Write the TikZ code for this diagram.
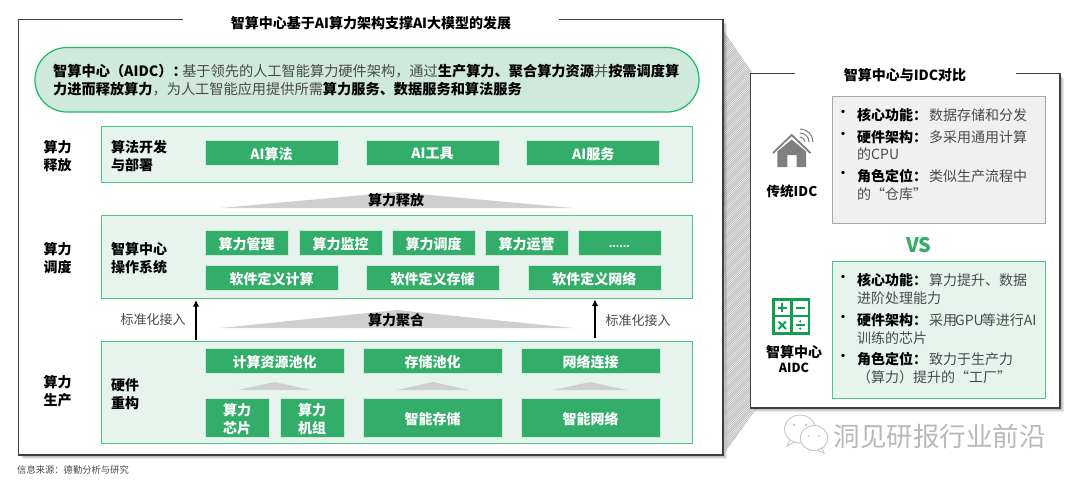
\documentclass[tikz,border=0pt]{standalone}
\usepackage{fontspec}
\setmainfont{Noto Sans CJK SC}
\usetikzlibrary{arrows.meta}
\definecolor{boxgreen}{HTML}{32AD6A}
\definecolor{pillfill}{HTML}{CFE9DC}
\definecolor{pillline}{HTML}{1DB866}
\definecolor{rowfill}{HTML}{E7F4ED}
\definecolor{rowline}{HTML}{4CC588}
\definecolor{trigray}{HTML}{CFCFCF}
\definecolor{txtgray}{HTML}{4A4A4A}
\definecolor{framegray}{HTML}{404040}
\definecolor{icongreen}{HTML}{0FA04F}
\definecolor{icongray}{HTML}{7F7F7F}
\newcommand{\fs}[1]{\fontsize{#1}{#1}\selectfont}
\newcommand{\gt}[1]{\textcolor{txtgray}{#1}}
\newcommand{\dn}[1]{\raisebox{-1.2pt}[\height][\depth]{#1}}
\tikzset{
  x=1pt,y=-1pt,
  rowbox/.style={draw=rowline,fill=rowfill,line width=1pt},
  gbox/.style={draw=white!75!boxgreen,fill=boxgreen,line width=.5pt,text=white,align=center,inner sep=0pt,font=\fs{14}\bfseries},
  lab/.style={align=left,anchor=west,inner sep=0pt,font=\fs{14}\bfseries},
  sidelab/.style={align=center,inner sep=0pt,font=\fs{14}\bfseries},
  tri/.style={fill=trigray,draw=none},
  heading/.style={inner sep=0pt,font=\fs{14}\bfseries},
  item/.style={align=left,anchor=west,inner sep=0pt,font=\fs{14},text=txtgray},
  bul/.style={inner sep=0pt,font=\fs{12}\bfseries},
  flow/.style={-{Latex[length=6.5pt,width=6.5pt]},line width=1.5pt,black},
  frameline/.style={draw=framegray,line width=1.2pt},
}
\begin{document}
\begin{tikzpicture}
\useasboundingbox (0,0) rectangle (1080,483);
% zoom wedge, finely hatched
\begin{scope}
\clip (723,30) -- (752,72) -- (757,408) -- (726,451) -- cycle;
\fill[gray!12] (715,25) rectangle (765,455);
\foreach \k in {0,2.2,...,480}{
  \draw[gray!60,line width=.6pt] (715,\k) -- (765,\k-50);
}
\end{scope}
% shadows
\foreach \i in {1,2,3,4}{
  \fill[black,opacity=.09] (18.5+\i,19.5+\i) rectangle (723+\i,455+\i);
  \fill[black,opacity=.09] (750.5+\i,73.5+\i) rectangle (1060+\i,408+\i);
}
% left frame
\fill[white] (18.5,19.5) rectangle (723,455);
\draw[frameline] (183,19.5) -- (18.5,19.5) -- (18.5,455) -- (723,455) -- (723,19.5) -- (559,19.5);
\node[heading] (title) at (371,23) {智算中心基于AI算力架构支撑AI大模型的发展};
% pill
\draw[draw=pillline,fill=pillfill,line width=1.2pt,rounded corners=32pt] (35,47.5) rectangle (699,112);
\node[align=left,anchor=west,inner sep=0pt,font=\fs{14.2}] (pilltext) at (53,80.5) {\textbf{智算中心（AIDC）：}\hspace{-4.5pt}\gt{基于领先的人工智能算力硬件架构，通过}\textbf{生产算力、聚合算力资源}\gt{并}\textbf{按需调度算}\\[3.8pt]\textbf{力进而释放算力}\gt{，为人工智能应用提供所需}\textbf{算力服务、数据服务和算法服务}};
% rows
\draw[rowbox] (101.5,126.5) rectangle (692.5,182.5);
\draw[rowbox] (101.5,215) rectangle (692.5,298);
\draw[rowbox] (101.5,341) rectangle (692.5,443);
% side labels
\node[sidelab] (s1) at (57.5,156.2) {算力\\[4pt]释放};
\node[sidelab] (s2) at (57.5,258.5) {算力\\[4pt]调度};
\node[sidelab] (s3) at (57.5,391.5) {算力\\[4pt]生产};
\node[lab] (l1) at (111,156.2) {算法开发\\[4pt]与部署};
\node[lab] (l2) at (111,258.5) {智算中心\\[4pt]操作系统};
\node[lab] (l3) at (111,394.5) {硬件\\[4pt]重构};
% row 1 boxes
\node[gbox,minimum width=133pt,minimum height=25pt] (b11) at (271.5,152.5) {\dn{AI算法}};
\node[gbox,minimum width=133pt,minimum height=25pt] (b12) at (432.5,152.5) {\dn{AI工具}};
\node[gbox,minimum width=133pt,minimum height=25pt] (b13) at (593.2,152.5) {\dn{AI服务}};
% release triangle
\fill[tri] (220,208) -- (397,192) -- (573,208) -- cycle;
\node[inner sep=0pt,font=\fs{14}\bfseries] (t1) at (396,200) {算力释放};
% row 2 boxes
\node[gbox,minimum width=83pt,minimum height=25.5pt] (b21) at (246.5,242.7) {\dn{算力管理}};
\node[gbox,minimum width=83pt,minimum height=25.5pt] (b22) at (340.5,242.7) {\dn{算力监控}};
\node[gbox,minimum width=83pt,minimum height=25.5pt] (b23) at (433.7,242.7) {\dn{算力调度}};
\node[gbox,minimum width=83pt,minimum height=25.5pt] (b24) at (526.5,242.7) {\dn{算力运营}};
\node[gbox,minimum width=83pt,minimum height=25.5pt] (b25) at (619.3,242.7) {\raisebox{-4pt}[\height][\depth]{\fs{10}......}};
\node[gbox,minimum width=133pt,minimum height=25pt] (b26) at (271.5,277.5) {\dn{软件定义计算}};
\node[gbox,minimum width=133pt,minimum height=25pt] (b27) at (432.7,277.5) {\dn{软件定义存储}};
\node[gbox,minimum width=133pt,minimum height=25pt] (b28) at (594.3,277.5) {\dn{软件定义网络}};
% aggregate triangle
\fill[tri] (220,328) -- (397,310) -- (573,328) -- cycle;
\node[inner sep=0pt,font=\fs{14}\bfseries] (t2) at (396,320) {算力聚合};
% arrows
\coordinate (a1s) at (196,339.5);
\coordinate (a1e) at (196,300);
\coordinate (a2s) at (595,337.5);
\coordinate (a2e) at (595,299.5);
\draw[flow] (a1s) -- (a1e);
\draw[flow] (a2s) -- (a2e);
\node[inner sep=0pt,font=\fs{13},text=txtgray] (n1) at (153,319.5) {标准化接入};
\node[inner sep=0pt,font=\fs{13},text=txtgray] (n2) at (638,320.5) {标准化接入};
% row 3 boxes
\node[gbox,minimum width=139.5pt,minimum height=25.5pt] (b31) at (274.7,360.7) {\dn{计算资源池化}};
\node[gbox,minimum width=139pt,minimum height=25.5pt] (b32) at (432.7,360.7) {\dn{存储池化}};
\node[gbox,minimum width=139pt,minimum height=25.5pt] (b33) at (590.5,360.7) {\dn{网络连接}};
\fill[tri] (238,390) -- (274.5,382) -- (311,390) -- cycle;
\fill[tri] (397,390) -- (433,382) -- (469,390) -- cycle;
\fill[tri] (553,390) -- (590,382) -- (627,390) -- cycle;
\node[gbox,minimum width=64pt,minimum height=39pt] (b34) at (237,417.5) {\dn{算力}\\[4pt]\dn{芯片}};
\node[gbox,minimum width=64pt,minimum height=39pt] (b35) at (312,417.5) {\dn{算力}\\[4pt]\dn{机组}};
\node[gbox,minimum width=139pt,minimum height=39pt] (b36) at (432.7,417.5) {\dn{智能存储}};
\node[gbox,minimum width=139pt,minimum height=39pt] (b37) at (590.5,417.5) {\dn{智能网络}};
% source
\node[anchor=west,inner sep=0pt,font=\fs{9.3},text=txtgray] (src) at (17,470) {信息来源：德勤分析与研究};
% right frame
\fill[white] (750.5,73.5) rectangle (1060,408);
\draw[frameline] (795,73.5) -- (750.5,73.5) -- (750.5,408) -- (1060,408) -- (1060,73.5) -- (1016,73.5);
\node[heading] (title2) at (905,75) {智算中心与IDC对比};
% grey box
\draw[draw=gray!70,fill=gray!12,line width=1pt] (832.5,96) rectangle (1045.5,223);
\node[bul] (bg1) at (843,113) {•};
\node[bul] (bg2) at (843,135) {•};
\node[bul] (bg3) at (843,174) {•};
\node[item] (ig1) at (857,115) {\textcolor{black}{\textbf{核心功能：}}\hspace{2pt}数据存储和分发};
\node[item] (ig2) at (857,145.5) {\textcolor{black}{\textbf{硬件架构：}}\hspace{2pt}多采用通用计算\\[3.5pt]的CPU};
\node[item] (ig3) at (857,185) {\textcolor{black}{\textbf{角色定位：}}\hspace{2pt}类似生产流程中\\[3.5pt]的“仓库”};
% VS
\node[inner sep=0pt,font=\fs{20}\bfseries,text=boxgreen] (vs) at (919,245) {VS};
% green box
\draw[draw=rowline,fill=rowfill,line width=1pt] (832.5,261.5) rectangle (1045.5,398);
\node[bul] (bn1) at (843,278) {•};
\node[bul] (bn2) at (843,318) {•};
\node[bul] (bn3) at (843,357.5) {•};
\node[item] (in1) at (857,289) {\textcolor{black}{\textbf{核心功能：}}\hspace{2pt}算力提升、数据\\[3.5pt]进阶处理能力};
\node[item] (in2) at (857,329) {\textcolor{black}{\textbf{硬件架构：}}\hspace{2pt}采用\hspace{-2pt}GPU\hspace{-2pt}等进行AI\\[3.5pt]训练的芯片};
\node[item] (in3) at (857,368) {\textcolor{black}{\textbf{角色定位：}}\hspace{2pt}致力于生产力\\[3.5pt]（算力）提升的“工厂”};
% house icon
\fill[icongray] (791.7,139.5) -- (806,151.5) -- (806,167) -- (796.7,167) -- (796.7,155) -- (787.3,155) -- (787.3,167) -- (777.3,167) -- (777.3,151.5) -- cycle;
\draw[icongray,line width=1.8pt] (773,153) -- (791.7,135) -- (810.5,153);
\foreach \r in {5,9,13}{
  \draw[icongray,line width=1pt] (800,142-\r) arc[start angle=-90,end angle=0,radius=\r];
}
\node[inner sep=0pt,font=\fs{13.5}\bfseries] (idc) at (792,191) {传统IDC};
% calculator icon
\fill[icongreen] (772,297.7) rectangle (810.3,335);
\fill[white] (774.7,300.7) rectangle (790,314.7);
\fill[white] (792.7,300.7) rectangle (807.7,314.7);
\fill[white] (774.7,317.3) rectangle (790,332.3);
\fill[white] (792.7,317.3) rectangle (807.7,332.3);
\draw[icongreen,line width=2pt] (777.5,307.7) -- (787,307.7) (782.3,303) -- (782.3,312.4);
\draw[icongreen,line width=2pt] (795.5,307.7) -- (805,307.7);
\draw[icongreen,line width=2pt] (778.5,321.5) -- (786,329) (778.5,329) -- (786,321.5);
\draw[icongreen,line width=1.4pt] (795.5,325) -- (805,325);
\fill[icongreen] (800.2,321.4) circle[radius=1.2];
\fill[icongreen] (800.2,328.6) circle[radius=1.2];
\node[sidelab] (aidc) at (794,359.5) {智算中心\\[1pt]{\fs{12.5}AIDC}};
% watermark
\draw[gray!45,line width=.9pt,fill=white] (790,440) -- (787,446) -- (795,442);
\draw[gray!45,line width=.9pt,fill=white] (800,429) ellipse[x radius=15.5,y radius=14];
\draw[gray!45,line width=.9pt,fill=white] (822,448) -- (824,453) -- (816,450);
\draw[gray!45,line width=.9pt,fill=white] (814,438) ellipse[x radius=13.8,y radius=12.5];
\fill[gray!45] (794,425) circle[radius=1.3] (806,425) circle[radius=1.3] (809,436) circle[radius=1.1] (819,436) circle[radius=1.1];
\node[anchor=west,inner sep=0pt,font=\fs{26.5},text=gray!55] (wm) at (833.5,436) {洞见研报行业前沿};
\end{tikzpicture}
\end{document}
